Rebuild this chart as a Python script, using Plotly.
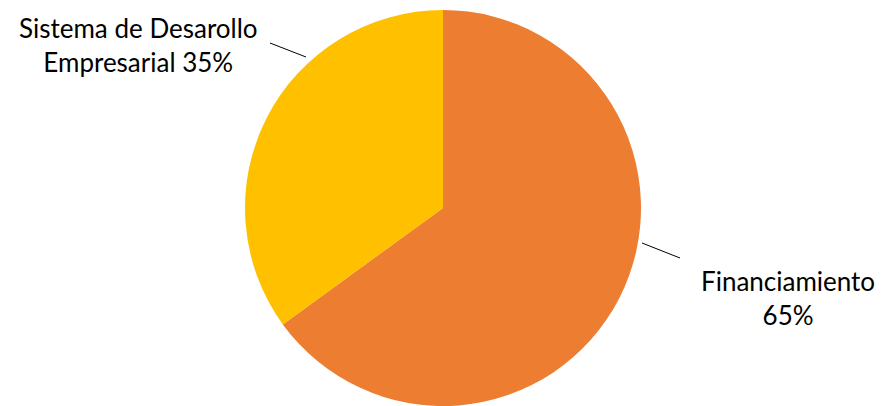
import plotly.graph_objects as go

labels = ["Financiamiento", "Sistema de Desarollo Empresarial"]
values = [65, 35]
colors = ["#ED7D31", "#FFC000"]
label_text = ["Financiamiento<br>65%", "Sistema de Desarollo<br>Empresarial 35%"]

W, H = 881, 406
cx, cy, r = 443, 208, 198

fig = go.Figure(go.Pie(
    labels=labels, values=values, sort=False, direction="clockwise", rotation=0,
    marker=dict(colors=colors, line=dict(width=0)),
    textinfo="none", hoverinfo="label+percent", showlegend=False,
    domain=dict(x=[(cx - r) / W, (cx + r) / W], y=[1 - (cy + r) / H, 1 - (cy - r) / H]),
))

font = dict(family="Lato, Carlito, Calibri, sans-serif", size=26, color="#000000")
fig.add_annotation(x=788 / W, y=1 - 298 / H, xref="paper", yref="paper", text=label_text[0],
                   showarrow=False, font=font, align="center", xanchor="center", yanchor="middle")
fig.add_annotation(x=138 / W, y=1 - 45 / H, xref="paper", yref="paper", text=label_text[1],
                   showarrow=False, font=font, align="center", xanchor="center", yanchor="middle")

fig.add_shape(type="line", xref="paper", yref="paper", x0=642 / W, y0=1 - 243 / H, x1=680 / W, y1=1 - 258 / H,
              line=dict(color="#000000", width=1))
fig.add_shape(type="line", xref="paper", yref="paper", x0=270 / W, y0=1 - 43 / H, x1=306 / W, y1=1 - 57 / H,
              line=dict(color="#000000", width=1))

fig.update_layout(width=W, height=H, margin=dict(l=0, r=0, t=0, b=0),
                  paper_bgcolor="white", plot_bgcolor="white")
fig.write_html("out.html", config={"displayModeBar": False},
               post_script="document.body.style.margin='0';document.body.style.overflow='hidden';")
